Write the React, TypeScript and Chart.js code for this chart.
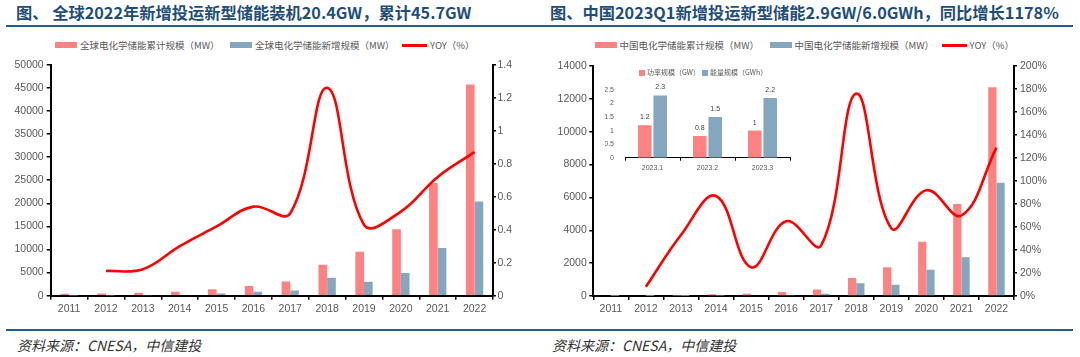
import React, { useEffect, useRef } from "react";
import { Chart, registerables } from "chart.js";

Chart.register(...registerables);

// ---------- data ----------
const years = ["2011", "2012", "2013", "2014", "2015", "2016", "2017", "2018", "2019", "2020", "2021", "2022"];

const globalCumulative = [400, 450, 650, 850, 1400, 2100, 3100, 6700, 9500, 14400, 24400, 45700];
const globalNew = [50, 60, 100, 150, 500, 850, 1100, 3900, 3000, 4900, 10300, 20400];
const globalYoy = [null, 0.15, 0.16, 0.3, 0.42, 0.54, 0.5, 1.26, 0.43, 0.51, 0.72, 0.87];

const chinaCumulative = [50, 40, 20, 110, 130, 250, 400, 1100, 1750, 3300, 5600, 12700];
const chinaNew = [5, 5, 5, 20, 50, 60, 130, 770, 690, 1600, 2360, 6900];
const chinaYoy = [null, 8, 53, 87, 25, 65, 44, 176, 59, 92, 70, 129];

const insetQuarters = ["2023.1", "2023.2", "2023.3"];
const insetPower = [1.2, 0.8, 1];
const insetEnergy = [2.3, 1.5, 2.2];

const leftTitle = "图、 全球2022年新增投运新型储能装机20.4GW，累计45.7GW";
const rightTitle = "图、中国2023Q1新增投运新型储能2.9GW/6.0GWh，同比增长1178%";
const leftLegend = ["全球电化学储能累计规模（MW）", "全球电化学储能新增规模（MW）", "YOY（%）"];
const rightLegend = ["中国电化学储能累计规模（MW）", "中国电化学储能新增规模（MW）", "YOY（%）"];
const insetLegend = ["功率规模（GW）", "能量规模（GWh）"];
const sourceText = "资料来源：CNESA，中信建投";

// ---------- styles ----------
const PINK = "#FF8282";
const BLUE = "#84A6BF";
const RED = "#FF0000";
const TICK = "#595959";
const LATIN = "'Liberation Sans', Arial, sans-serif";
const CJK = "'Noto Sans CJK SC', 'Noto Sans', sans-serif";

type MainOpts = {
  leftMax: number;
  leftStep: number;
  rightMax: number;
  rightStep: number;
  rightFmt: (v: number) => string;
  leftW: number;
  rightW: number;
  padTop: number;
  xH: number;
  leftPad: number;
  rightPad: number;
};

function mainConfig(cum: number[], nw: number[], yoy: (number | null)[], o: MainOpts): any {
  const tickFont = { family: LATIN, size: 10.5 };
  return {
    type: "bar",
    data: {
      labels: years,
      datasets: [
        {
          type: "line",
          data: yoy,
          yAxisID: "y1",
          borderColor: RED,
          borderWidth: 2.6,
          pointRadius: 0,
          tension: 0.4,
          fill: false,
          order: 0,
        },
        {
          type: "bar",
          data: cum,
          yAxisID: "y",
          backgroundColor: PINK,
          categoryPercentage: 0.47,
          barPercentage: 1,
          order: 1,
        },
        {
          type: "bar",
          data: nw,
          yAxisID: "y",
          backgroundColor: BLUE,
          categoryPercentage: 0.47,
          barPercentage: 1,
          order: 2,
        },
      ],
    },
    options: {
      responsive: false,
      animation: false,
      layout: { padding: { top: o.padTop, left: 0, right: 0, bottom: 0 } },
      plugins: { legend: { display: false }, tooltip: { enabled: false } },
      scales: {
        x: {
          grid: { display: true, drawOnChartArea: false, offset: true, tickLength: 4, color: "#000", lineWidth: 1.5 },
          border: { display: true, color: "#000", width: 2 },
          ticks: { color: TICK, font: tickFont, padding: 3, maxRotation: 0, autoSkip: false },
          afterFit: (s: any) => {
            s.height = o.xH;
          },
        },
        y: {
          position: "left",
          min: 0,
          max: o.leftMax,
          grid: { display: true, drawOnChartArea: false, tickLength: 4, color: "#000", lineWidth: 1.5 },
          border: { display: true, color: "#000", width: 2 },
          ticks: { stepSize: o.leftStep, color: TICK, font: tickFont, padding: o.leftPad, callback: (v: any) => String(v) },
          afterFit: (s: any) => {
            s.width = o.leftW;
          },
        },
        y1: {
          position: "right",
          min: 0,
          max: o.rightMax,
          grid: { display: true, drawOnChartArea: false, tickLength: 3, color: "#000", lineWidth: 1.5 },
          border: { display: true, color: "#000", width: 2 },
          ticks: { stepSize: o.rightStep, color: TICK, font: tickFont, padding: o.rightPad, callback: (v: any) => o.rightFmt(Number(v)) },
          afterFit: (s: any) => {
            s.width = o.rightW;
          },
        },
      },
    },
  };
}

const barValueLabels = {
  id: "barValueLabels",
  afterDatasetsDraw(chart: any) {
    const ctx = chart.ctx;
    ctx.save();
    ctx.font = `7px ${LATIN}`;
    ctx.fillStyle = "#404040";
    ctx.textAlign = "center";
    ctx.textBaseline = "middle";
    chart.data.datasets.forEach((ds: any, i: number) => {
      const meta = chart.getDatasetMeta(i);
      meta.data.forEach((el: any, j: number) => {
        ctx.fillText(String(ds.data[j]), el.x, el.y - 8);
      });
    });
    ctx.restore();
  },
};

function insetConfig(): any {
  const f = { family: LATIN, size: 7 };
  return {
    type: "bar",
    data: {
      labels: insetQuarters,
      datasets: [
        { data: insetPower, backgroundColor: PINK, categoryPercentage: 0.56, barPercentage: 0.88 },
        { data: insetEnergy, backgroundColor: BLUE, categoryPercentage: 0.56, barPercentage: 0.88 },
      ],
    },
    options: {
      responsive: false,
      animation: false,
      layout: { padding: { top: 10, right: 5, left: 0, bottom: 0 } },
      plugins: { legend: { display: false }, tooltip: { enabled: false } },
      scales: {
        x: {
          grid: { display: true, drawOnChartArea: false, offset: true, tickLength: 3, color: "#000", lineWidth: 1 },
          border: { display: true, color: "#000", width: 1 },
          ticks: { color: TICK, font: f, padding: 3, maxRotation: 0 },
          afterFit: (s: any) => {
            s.height = 22.3;
          },
        },
        y: {
          min: 0,
          max: 2.5,
          grid: { display: false },
          border: { display: false },
          ticks: { stepSize: 0.5, color: TICK, font: f, padding: 3, callback: (v: any) => String(Math.round(Number(v) * 10) / 10) },
          afterFit: (s: any) => {
            s.width = 20;
          },
        },
      },
    },
    plugins: [barValueLabels],
  };
}

function ChartCanvas({ config, left, top, width, height }: { config: () => any; left: number; top: number; width: number; height: number }) {
  const ref = useRef<HTMLCanvasElement | null>(null);
  useEffect(() => {
    if (!ref.current) return;
    const c = new Chart(ref.current, config());
    return () => c.destroy();
  }, []);
  return (
    <canvas
      ref={ref}
      width={width}
      height={height}
      style={{ position: "absolute", left, top, width, height }}
    />
  );
}

function Legend({ x, labels }: { x: number; labels: string[] }) {
  const txt: React.CSSProperties = {
    position: "absolute",
    top: 39,
    lineHeight: "12px",
    fontFamily: CJK,
    fontSize: 9.5,
    color: TICK,
    whiteSpace: "nowrap",
  };
  return (
    <>
      <div style={{ position: "absolute", left: x, top: 42, width: 22, height: 6, background: PINK }} />
      <div style={{ ...txt, left: x + 25 }}>{labels[0]}</div>
      <div style={{ position: "absolute", left: x + 175, top: 42, width: 22, height: 6, background: BLUE }} />
      <div style={{ ...txt, left: x + 200 }}>{labels[1]}</div>
      <div style={{ position: "absolute", left: x + 347, top: 44, width: 25, height: 2.5, background: RED }} />
      <div style={{ ...txt, left: x + 375 }}>{labels[2]}</div>
    </>
  );
}

export default function App() {
  const titleStyle: React.CSSProperties = {
    position: "absolute",
    top: 3.5,
    fontFamily: CJK,
    fontWeight: 700,
    fontSize: 16.25,
    lineHeight: "17px",
    color: "#1F4E79",
    whiteSpace: "nowrap",
  };
  const srcStyle: React.CSSProperties = {
    position: "absolute",
    top: 337,
    fontFamily: CJK,
    fontStyle: "italic",
    fontSize: 14,
    lineHeight: "16px",
    color: "#333",
    whiteSpace: "nowrap",
  };
  const insetTxt: React.CSSProperties = {
    position: "absolute",
    top: 68,
    lineHeight: "9px",
    fontFamily: CJK,
    fontSize: 7,
    color: TICK,
    whiteSpace: "nowrap",
  };
  return (
    <div style={{ position: "absolute", left: 0, top: 0, width: 1080, height: 357, background: "#fff", overflow: "hidden" }}>
      <div style={{ ...titleStyle, left: 16 }}>{leftTitle}</div>
      <div style={{ ...titleStyle, left: 550 }}>{rightTitle}</div>
      <div style={{ position: "absolute", left: 6, top: 25, width: 1067, height: 2, background: "#1F5E96" }} />

      <Legend x={55} labels={leftLegend} />
      <Legend x={594.5} labels={rightLegend} />

      <ChartCanvas
        left={0}
        top={50}
        width={540}
        height={275}
        config={() =>
          mainConfig(globalCumulative, globalNew, globalYoy, {
            leftMax: 50000,
            leftStep: 5000,
            rightMax: 1.4,
            rightStep: 0.2,
            rightFmt: (v) => String(Math.round(v * 10) / 10),
            leftW: 50.7,
            rightW: 47,
            padTop: 14.7,
            xH: 29.3,
            leftPad: 3,
            rightPad: 1.5,
          })
        }
      />
      <ChartCanvas
        left={540}
        top={50}
        width={540}
        height={275}
        config={() =>
          mainConfig(chinaCumulative, chinaNew, chinaYoy, {
            leftMax: 14000,
            leftStep: 2000,
            rightMax: 200,
            rightStep: 20,
            rightFmt: (v) => Math.round(v) + "%",
            leftW: 53.3,
            rightW: 66,
            padTop: 16,
            xH: 29,
            leftPad: 2.5,
            rightPad: 3,
          })
        }
      />

      <div style={{ position: "absolute", left: 639, top: 69.5, width: 6, height: 6, background: PINK }} />
      <div style={{ ...insetTxt, left: 647 }}>{insetLegend[0]}</div>
      <div style={{ position: "absolute", left: 702, top: 69.5, width: 6, height: 6, background: BLUE }} />
      <div style={{ ...insetTxt, left: 710 }}>{insetLegend[1]}</div>
      <ChartCanvas left={605} top={80} width={190} height={100} config={insetConfig} />

      <div style={{ position: "absolute", left: 6, top: 328.5, width: 1067, height: 2, background: "#1F5E96" }} />
      <div style={{ ...srcStyle, left: 17 }}>{sourceText}</div>
      <div style={{ ...srcStyle, left: 552 }}>{sourceText}</div>
    </div>
  );
}
